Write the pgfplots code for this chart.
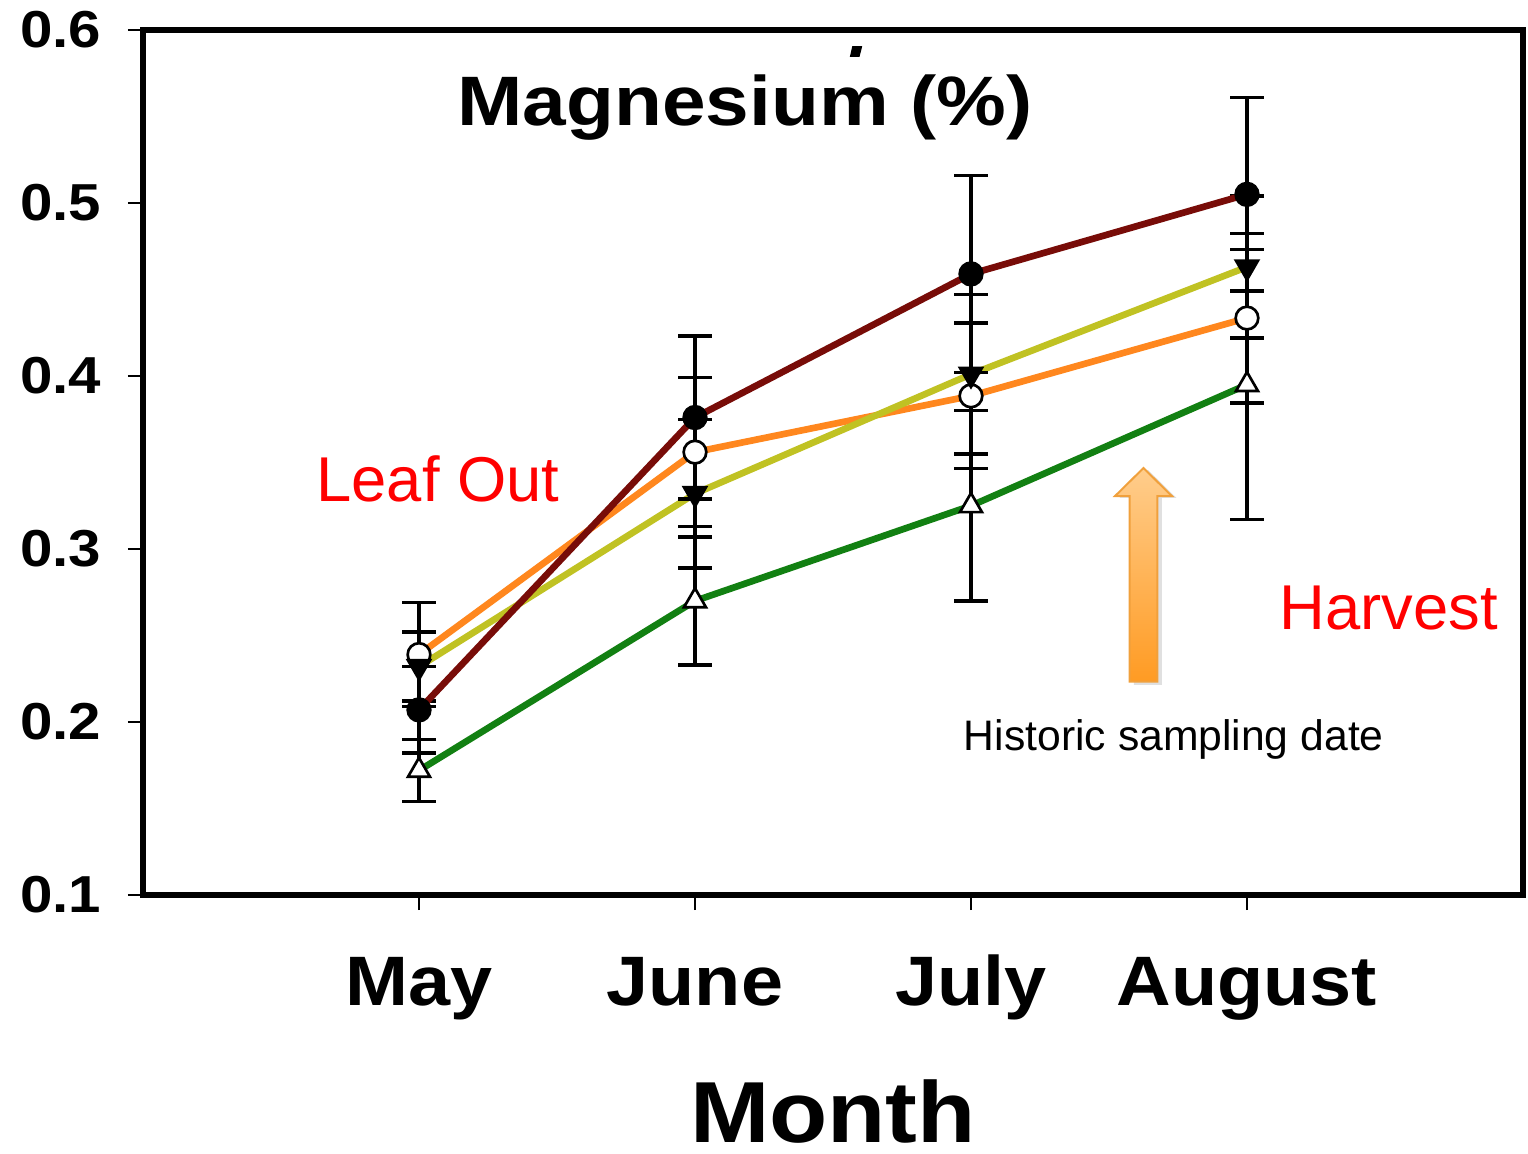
\documentclass[border=0pt]{standalone}
\usepackage{fontspec}
\setmainfont{Liberation Sans}
\usepackage{graphicx}
\usepackage{pgfplots}
\pgfplotsset{compat=1.18}
\newcommand\sx[2][1.12]{\scalebox{#1}[1]{#2}}
\definecolor{cred}{RGB}{120,12,8}
\definecolor{corange}{RGB}{255,135,30}
\definecolor{cyellow}{RGB}{192,194,35}
\definecolor{cgreen}{RGB}{18,128,18}
\definecolor{arrtop}{RGB}{255,205,140}
\definecolor{arrbot}{RGB}{255,155,35}
\definecolor{arrdraw}{RGB}{240,160,60}
\pgfplotsset{eb/.style={error bars/y dir=both, error bars/y explicit,
  error bars/error bar style={line width=1.05pt,black},
  error bars/error mark options={rotate=90,mark size=5pt,line width=1.05pt,black}}}
\begin{document}
\begin{tikzpicture}
\begin{axis}[
  at={(0,0)}, anchor=south west,
  scale only axis, width=414pt, height=259.5pt,
  xmin=0, xmax=5, ymin=0.1, ymax=0.6,
  axis line style={line width=1.8pt},
  xtick={1,2,3,4},
  xticklabels={\sx[1.08]{May},\sx[1.08]{June},\sx[1.08]{July},\sx[1.08]{August}},
  ytick={0.1,0.2,0.3,0.4,0.5,0.6},
  yticklabels={\sx{0.1},\sx{0.2},\sx{0.3},\sx{0.4},\sx{0.5},\sx{0.6}},
  tick align=outside, xtick pos=bottom, ytick pos=left,
  major tick length=4.5pt,
  tick style={line width=0.6pt, black},
  yticklabel style={font=\fontsize{15.6}{15.6}\selectfont\bfseries, anchor=east, xshift=-4.5pt},
  xticklabel style={font=\fontsize{21}{21}\selectfont\bfseries, anchor=base, yshift=-28.5pt},
  xlabel={\sx[1.1]{Month}},
  xlabel style={font=\fontsize{26}{26}\selectfont\bfseries, inner sep=0pt, at={(axis description cs:0.5,0)}, anchor=base, yshift=-74.1pt},
  clip=false,
]
% arrow (annotation)
\fill[black, opacity=0.12] (axis cs:3.641,0.3458) -- (axis cs:3.744,0.3296) -- (axis cs:3.692,0.3296) -- (axis cs:3.692,0.2214) -- (axis cs:3.590,0.2214) -- (axis cs:3.590,0.3296) -- (axis cs:3.538,0.3296) -- cycle;
\shade[top color=arrtop, bottom color=arrbot, draw=arrdraw, line width=0.6pt]
  (axis cs:3.625,0.3468) -- (axis cs:3.728,0.3306) -- (axis cs:3.6755,0.3306) -- (axis cs:3.6755,0.2234) -- (axis cs:3.5745,0.2234) -- (axis cs:3.5745,0.3306) -- (axis cs:3.522,0.3306) -- cycle;
% stray mark
\fill[black] (axis cs:2.570,0.5907) -- (axis cs:2.606,0.5907) -- (axis cs:2.596,0.5844) -- (axis cs:2.561,0.5844) -- cycle;

\addplot[corange, line width=2pt, mark=*, mark size=3.4pt, mark options={fill=white, draw=black, line width=0.8pt}, eb]
 coordinates {(1,0.239) +- (0,0.030) (2,0.356) +- (0,0.043) (3,0.3885) +- (0,0.042) (4,0.4335) +- (0,0.049)};
\addplot[cyellow, line width=2pt, mark=triangle*, mark size=3.8pt, mark options={rotate=180, fill=black, draw=black, line width=0.8pt}, eb]
 coordinates {(1,0.232) +- (0,0.020) (2,0.332) +- (0,0.043) (3,0.401) +- (0,0.046) (4,0.463) +- (0,0.041)};
\addplot[cgreen, line width=2pt, mark=triangle*, mark size=3.8pt, mark options={fill=white, draw=black, line width=0.8pt}, eb]
 coordinates {(1,0.172) +- (0,0.018) (2,0.270) +- (0,0.037) (3,0.325) +- (0,0.055) (4,0.395) +- (0,0.078)};
\addplot[cred, line width=2pt, mark=*, mark size=3.4pt, mark options={fill=black, draw=black, line width=0.8pt}, eb]
 coordinates {(1,0.207) +- (0,0.025) (2,0.376) +- (0,0.047) (3,0.459) +- (0,0.057) (4,0.505) +- (0,0.056)};

\node[anchor=base, font=\fontsize{21}{21}\selectfont\bfseries] at (axis cs:2.181,0.545) {\sx{Magnesium (\%)}};
\node[anchor=base, text=red, font=\fontsize{19}{19}\selectfont] at (axis cs:1.069,0.3277) {Leaf Out};
\node[anchor=base, text=red, font=\fontsize{19}{19}\selectfont] at (axis cs:4.514,0.2535) {Harvest};
\node[anchor=base, font=\fontsize{12.8}{12.8}\selectfont] at (axis cs:3.735,0.1834) {Historic sampling date};
\end{axis}
\pgfresetboundingbox
\useasboundingbox (-42.9pt,-77.4pt) rectangle (415.5pt,268.5pt);
\end{tikzpicture}
\end{document}
